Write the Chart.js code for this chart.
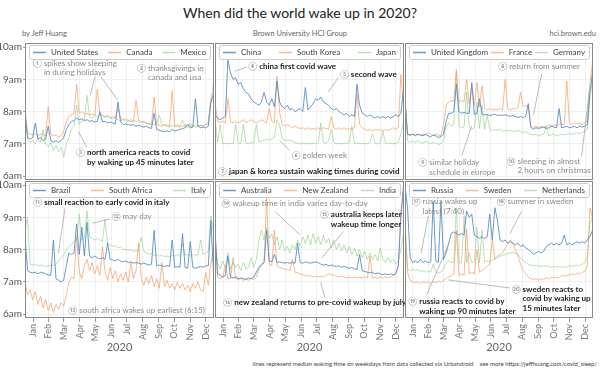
<!DOCTYPE html>
<html>
<head>
<meta charset="utf-8">
<script src="https://cdn.jsdelivr.net/npm/chart.js@4.4.1/dist/chart.umd.min.js"></script>
<style>
  html, body { margin: 0; padding: 0; background: #fff; }
  #wrap { position: relative; width: 600px; height: 375px; overflow: hidden; font-family: Lato, sans-serif; background: #fff; }
  #wrap canvas { position: absolute; left: 0; top: 0; }
  .txt { position: absolute; white-space: nowrap; color: #666; line-height: 1.2; }
</style>
</head>
<body>
<div id="wrap">
  <div class="txt" style="left:0;width:600px;top:5px;text-align:center;font-size:14px;color:#222;">When did the world wake up in 2020?</div>
  <div class="txt" style="left:22px;top:29px;font-size:7.5px;">by Jeff Huang</div>
  <div class="txt" style="left:0;width:600px;top:29px;text-align:center;font-size:7.5px;">Brown University HCI Group</div>
  <div class="txt" style="right:4px;top:29px;font-size:7.5px;">hci.brown.edu</div>
  <div class="txt" style="right:3px;top:360px;font-size:6px;color:#444;">lines represent median waking time on weekdays from data collected via Urbandroid &nbsp;&nbsp; see more https://jeffhuang.com/covid_sleep/</div>
</div>
<script>
// day of year (2020) for each sample
const sampleDays = [0, 5, 10, 15, 20, 25, 30, 35, 40, 45,
  50, 55, 60, 65, 70, 75, 80, 85, 90, 95,
  100, 105, 110, 115, 120, 125, 130, 135, 140, 145,
  150, 155, 160, 165, 170, 175, 180, 185, 190, 195,
  200, 205, 210, 215, 220, 225, 230, 235, 240, 245,
  250, 255, 260, 265, 270, 275, 280, 285, 290, 295,
  300, 305, 310, 315, 320, 325, 330, 335, 340, 345,
  350, 355, 360, 365];

const months = ['Jan', 'Feb', 'Mar', 'Apr', 'May', 'Jun', 'Jul', 'Aug', 'Sep', 'Oct', 'Nov', 'Dec'];
const monthMid = [15.5, 45.5, 75.5, 106, 136.5, 167, 197.5, 228.5, 259, 289.5, 320, 350.5];
const hourTicks = [6, 7, 8, 9, 10];
const hourLabels = ['6am', '7am', '8am', '9am', '10am'];

// median wake time (hours)
const usWake = [7.9, 7.2, 7.15, 7.2, 7.65, 7.15, 7.2, 7.1, 7.15, 7.55,
  7.1, 7.05, 7.1, 7.05, 7.1, 7.2, 7.45, 7.6, 7.7, 7.72,
  7.8, 7.75, 7.78, 7.72, 7.75, 7.7, 7.72, 7.68, 7.7, 8.0,
  7.68, 7.7, 7.65, 7.68, 7.65, 7.62, 8.3, 7.7, 7.6, 7.62,
  7.6, 7.58, 7.6, 7.55, 7.58, 7.55, 7.52, 7.55, 7.5, 7.48,
  7.95, 7.45, 7.42, 7.4, 7.38, 7.4, 7.38, 7.45, 7.4, 7.42,
  7.45, 7.48, 7.5, 7.6, 7.5, 7.52, 8.4, 7.55, 7.5, 7.52,
  7.5, 7.55, 8.3, 8.5];
const canadaWake = [8.0, 7.35, 7.3, 7.28, 7.32, 7.25, 7.3, 7.28, 7.25, 8.15,
  7.3, 7.25, 7.28, 7.22, 7.25, 7.4, 7.7, 7.85, 7.9, 7.95,
  8.85, 7.95, 8.0, 7.92, 7.95, 7.9, 7.92, 7.9, 8.7, 7.9,
  7.88, 7.85, 7.88, 7.82, 7.85, 7.8, 8.1, 7.8, 7.75, 7.78,
  7.72, 7.75, 7.7, 8.35, 7.72, 7.7, 7.68, 7.65, 7.62, 7.6,
  8.45, 7.6, 7.58, 7.55, 7.58, 7.55, 7.52, 8.65, 7.55, 7.55,
  7.52, 7.55, 7.58, 7.6, 7.55, 7.55, 7.6, 7.55, 7.58, 7.55,
  7.6, 7.62, 8.4, 8.6];
const mexicoWake = [8.2, 7.15, 7.05, 7.1, 7.0, 7.15, 7.05, 7.45, 7.0, 6.9,
  7.05, 6.8, 6.95, 6.75, 6.9, 6.6, 7.0, 7.2, 7.45, 7.55,
  8.2, 7.6, 7.7, 7.75, 8.5, 7.85, 7.8, 7.9, 7.85, 7.9,
  7.88, 7.82, 7.85, 7.8, 7.78, 7.82, 7.75, 7.72, 7.75, 7.7,
  7.72, 7.68, 7.7, 7.72, 7.68, 7.65, 7.7, 7.65, 7.62, 7.65,
  7.6, 7.62, 7.9, 7.6, 7.58, 7.6, 7.55, 7.58, 7.55, 7.6,
  7.55, 7.75, 7.55, 7.5, 7.65, 7.55, 7.52, 7.55, 7.58, 7.55,
  7.6, 7.7, 8.3, 8.9];

const chinaWake = [7.9, 7.8, 7.75, 7.8, 7.85, 9.6, 9.2, 9.0, 9.05, 8.85,
  8.9, 8.7, 8.6, 8.55, 8.4, 8.3, 8.25, 8.2, 8.3, 8.6,
  8.3, 8.2, 8.4, 8.15, 8.95, 8.3, 8.15, 8.1, 8.2, 8.05,
  8.1, 8.0, 8.05, 8.1, 8.0, 8.75, 8.05, 8.15, 8.25, 8.4,
  8.35, 8.45, 8.3, 8.25, 8.2, 8.1, 8.05, 8.1, 8.0, 7.95,
  7.9, 7.95, 7.85, 7.9, 7.85, 8.85, 8.2, 7.95, 7.9, 7.85,
  7.9, 7.85, 7.8, 7.85, 7.8, 7.85, 7.8, 7.85, 7.8, 7.85,
  7.9, 7.85, 7.95, 8.65];
const koreaWake = [8.3, 7.7, 7.65, 7.7, 7.65, 8.4, 7.7, 7.65, 7.7, 7.65,
  7.7, 7.75, 7.65, 7.7, 7.75, 7.7, 7.65, 7.7, 7.75, 7.7,
  7.65, 8.1, 7.7, 7.65, 9.1, 8.0, 7.6, 7.55, 7.6, 7.55,
  7.5, 7.55, 7.5, 7.48, 7.5, 7.45, 7.5, 7.45, 7.48, 7.45,
  7.5, 7.45, 7.5, 7.48, 7.45, 7.85, 7.5, 7.45, 7.5, 7.45,
  7.5, 7.45, 7.48, 7.45, 7.5, 8.55, 7.6, 7.5, 7.45, 7.42,
  7.45, 7.4, 7.45, 7.42, 7.45, 7.4, 7.45, 7.42, 7.45, 7.5,
  7.45, 7.5, 9.15, 8.2];
const japanWake = [7.8, 7.05, 7.6, 7.0, 7.02, 7.0, 7.02, 7.0, 7.6, 7.0,
  7.02, 7.6, 7.02, 7.0, 7.05, 7.02, 7.6, 7.05, 7.1, 7.1,
  7.15, 7.12, 7.15, 7.2, 7.75, 7.6, 7.15, 7.12, 7.1, 7.12,
  7.08, 7.05, 7.02, 7.0, 7.02, 7.0, 7.02, 7.0, 7.02, 7.0,
  7.05, 7.65, 7.05, 7.02, 7.1, 7.45, 7.05, 7.0, 7.02, 7.0,
  7.02, 7.0, 7.05, 7.55, 7.02, 7.0, 7.02, 7.0, 7.02, 7.0,
  7.05, 7.3, 7.02, 7.0, 7.02, 7.4, 7.02, 7.0, 7.02, 7.0,
  7.02, 7.05, 7.3, 7.7];

const ukWake = [8.3, 7.3, 7.28, 7.3, 7.25, 7.3, 7.28, 7.25, 7.3, 7.25,
  7.22, 7.28, 7.25, 7.2, 7.22, 7.3, 7.7, 7.95, 7.95, 8.0,
  8.85, 8.0, 7.95, 7.98, 7.95, 7.95, 8.9, 7.92, 7.95, 8.4,
  7.92, 7.9, 7.92, 7.88, 7.9, 7.92, 7.88, 7.9, 7.88, 7.9,
  7.88, 7.85, 7.88, 7.85, 7.82, 7.85, 7.82, 7.85, 8.25, 7.5,
  7.45, 7.5, 7.48, 7.5, 7.52, 7.48, 7.5, 7.55, 7.52, 7.5,
  8.1, 7.5, 7.52, 7.55, 7.5, 7.52, 7.55, 7.5, 7.55, 7.52,
  7.55, 7.6, 8.6, 9.2];
const franceWake = [8.4, 7.3, 7.25, 7.3, 7.28, 7.3, 7.25, 7.3, 7.28, 7.35,
  7.3, 7.25, 7.3, 7.28, 7.25, 7.6, 8.2, 8.3, 8.35, 8.3,
  9.3, 8.3, 8.35, 8.3, 9.0, 8.25, 8.8, 8.2, 8.9, 8.15,
  8.8, 8.1, 8.05, 8.1, 8.05, 8.08, 8.05, 8.1, 8.05, 9.0,
  8.1, 8.05, 8.1, 8.08, 8.12, 8.6, 8.15, 8.2, 8.15, 7.55,
  7.5, 7.55, 7.5, 7.55, 7.5, 7.55, 7.58, 7.55, 7.6, 7.55,
  7.6, 7.62, 7.6, 8.95, 7.65, 7.6, 7.65, 7.62, 7.65, 7.6,
  7.65, 7.7, 8.9, 9.5];
const germanyWake = [8.5, 7.1, 7.05, 7.08, 7.05, 7.1, 7.05, 7.02, 7.08, 7.05,
  7.0, 7.05, 7.02, 6.98, 7.0, 7.1, 7.55, 7.65, 7.55, 7.6,
  9.25, 7.55, 7.5, 7.52, 8.6, 7.5, 7.45, 7.5, 8.3, 7.48,
  8.2, 7.45, 7.9, 7.45, 7.42, 7.45, 7.42, 7.45, 7.4, 7.42,
  7.4, 7.42, 7.38, 7.4, 7.42, 7.38, 7.35, 7.38, 7.32, 7.3,
  7.28, 7.3, 7.25, 7.28, 7.3, 7.55, 7.25, 7.28, 7.3, 7.25,
  7.28, 7.3, 7.28, 7.3, 7.32, 7.3, 7.32, 7.35, 7.32, 7.35,
  7.4, 7.45, 8.4, 9.0];

const brazilWake = [8.4, 7.35, 7.3, 7.28, 7.3, 7.25, 7.3, 7.28, 7.25, 7.22,
  7.2, 8.3, 7.1, 7.05, 7.0, 7.05, 7.5, 7.9, 7.85, 7.9,
  8.8, 7.85, 8.7, 7.8, 8.85, 7.8, 7.75, 7.8, 7.75, 7.72,
  7.75, 7.7, 8.2, 7.7, 7.68, 7.65, 7.7, 7.65, 7.62, 7.65,
  7.6, 7.62, 7.58, 7.6, 7.58, 7.55, 7.58, 7.55, 7.52, 7.55,
  8.6, 7.5, 7.52, 7.5, 7.48, 7.5, 7.48, 8.3, 7.45, 7.48,
  7.45, 8.5, 7.45, 7.42, 8.25, 7.45, 7.42, 7.45, 7.48, 7.45,
  7.5, 7.5, 8.9, 7.3];
const southAfricaWake = [7.0, 6.6, 6.75, 6.45, 6.7, 6.3, 6.55, 6.2, 6.45, 6.1,
  6.35, 6.05, 6.3, 6.15, 6.35, 6.25, 6.6, 7.0, 7.15, 7.1,
  8.4, 7.3, 7.1, 7.5, 7.7, 7.35, 7.6, 7.25, 7.5, 7.2,
  8.1, 7.3, 7.05, 7.45, 7.1, 7.35, 7.0, 7.25, 7.05, 7.3,
  7.0, 7.6, 7.1, 7.35, 8.2, 7.1, 6.9, 7.15, 6.95, 7.2,
  6.85, 7.1, 6.8, 7.6, 6.85, 7.05, 6.8, 6.95, 6.75, 7.0,
  6.8, 6.95, 6.75, 6.9, 6.7, 6.95, 6.8, 7.0, 6.75, 6.7,
  7.3, 6.9, 7.6, 8.0];
const italyWake = [8.6, 9.0, 7.55, 7.52, 7.55, 7.5, 7.52, 7.5, 7.48, 7.5,
  7.52, 7.5, 7.55, 7.65, 7.75, 7.85, 8.0, 8.1, 8.15, 8.25,
  8.3, 9.1, 8.3, 8.35, 9.2, 8.4, 8.35, 8.3, 8.35, 8.3,
  8.25, 8.95, 8.2, 8.15, 8.1, 8.12, 8.05, 8.08, 8.0, 8.02,
  7.98, 8.0, 7.95, 7.98, 7.95, 8.4, 7.95, 7.9, 7.85, 7.88,
  7.82, 7.85, 7.8, 7.82, 7.78, 7.8, 7.78, 7.82, 7.8, 7.85,
  7.8, 8.2, 7.82, 7.85, 7.8, 7.85, 7.82, 7.85, 8.3, 7.85,
  7.9, 7.95, 9.05, 8.5];

const australiaWake = [8.6, 7.25, 7.2, 7.15, 7.2, 7.8, 7.15, 7.12, 7.15, 7.1,
  7.12, 7.1, 7.08, 7.12, 7.1, 7.15, 7.3, 7.45, 7.55, 7.6,
  8.6, 7.65, 7.62, 7.85, 7.6, 7.62, 7.6, 7.58, 7.6, 7.58,
  7.6, 7.58, 8.2, 7.6, 7.58, 7.62, 7.6, 7.58, 7.6, 7.62,
  7.6, 7.55, 7.52, 7.55, 7.5, 7.52, 7.5, 7.48, 7.5, 7.45,
  7.48, 7.45, 7.42, 7.45, 7.4, 7.38, 7.85, 7.35, 7.32, 7.3,
  7.28, 7.3, 7.25, 7.28, 7.25, 7.22, 7.25, 7.22, 7.25, 7.22,
  7.25, 7.5, 9.0, 10.0];
const newZealandWake = [8.5, 7.15, 7.1, 7.15, 7.5, 7.1, 7.12, 7.75, 7.1, 7.08,
  7.1, 7.05, 7.08, 7.05, 7.1, 7.08, 7.15, 7.4, 7.5, 7.6,
  9.6, 7.55, 7.5, 8.6, 7.5, 7.45, 7.42, 7.4, 7.38, 7.35,
  7.7, 7.3, 7.28, 7.25, 7.22, 7.2, 7.18, 7.2, 7.15, 7.18,
  7.15, 7.18, 7.15, 7.2, 7.25, 7.22, 7.2, 7.18, 7.15, 7.18,
  7.15, 7.12, 7.15, 7.12, 7.15, 7.12, 7.15, 7.12, 7.15, 7.12,
  7.8, 7.12, 7.15, 7.1, 7.15, 7.12, 7.15, 7.12, 7.15, 7.2,
  7.25, 7.5, 9.2, 9.8];
const indiaWake = [8.2, 7.6, 7.4, 7.65, 7.45, 7.9, 7.4, 7.6, 7.45, 7.55,
  7.35, 7.6, 7.4, 7.45, 7.75, 7.45, 7.7, 8.3, 8.6, 8.3,
  8.7, 8.35, 8.5, 8.15, 8.4, 8.0, 8.3, 7.95, 8.1, 7.9,
  8.15, 8.0, 8.3, 8.1, 8.4, 8.2, 8.45, 8.15, 8.5, 8.2,
  8.4, 8.15, 8.45, 8.2, 8.35, 8.05, 8.3, 8.0, 8.2, 7.95,
  8.15, 7.9, 8.1, 7.85, 8.05, 7.8, 8.0, 7.75, 7.95, 7.7,
  7.9, 7.7, 7.85, 7.65, 8.05, 7.7, 7.6, 7.75, 7.6, 7.7,
  7.55, 7.65, 8.0, 8.5];

const russiaWake = [10.0, 9.3, 7.75, 7.6, 7.65, 7.6, 7.7, 7.6, 7.65, 7.6,
  7.62, 9.5, 7.65, 7.6, 9.5, 7.7, 7.9, 8.2, 8.5, 8.55,
  8.5, 8.45, 8.5, 8.45, 9.2, 9.0, 9.1, 8.45, 8.4, 8.35,
  8.4, 8.35, 8.4, 9.1, 8.3, 9.3, 8.9, 8.3, 8.25, 8.3,
  8.2, 8.25, 8.2, 8.15, 8.2, 8.1, 8.15, 8.05, 8.0, 7.95,
  7.85, 7.9, 7.95, 7.9, 7.95, 8.1, 8.15, 8.2, 8.15, 8.2,
  8.15, 8.2, 8.45, 8.15, 8.2, 8.15, 8.2, 8.25, 8.2, 8.25,
  8.2, 8.3, 8.4, 8.6];
const swedenWake = [9.0, 7.3, 7.05, 7.0, 6.98, 7.0, 6.95, 7.0, 6.98, 7.0,
  6.95, 7.0, 6.98, 7.02, 7.0, 7.05, 7.1, 7.15, 7.2, 7.25,
  8.6, 7.2, 7.25, 7.2, 8.65, 7.25, 7.3, 7.25, 8.0, 7.3,
  7.35, 7.4, 7.5, 7.55, 8.3, 7.7, 7.8, 7.85, 7.9, 8.05,
  8.2, 8.3, 8.2, 8.0, 7.8, 7.55, 7.35, 7.25, 7.15, 7.1,
  7.08, 7.1, 7.05, 7.1, 7.08, 7.12, 7.1, 7.15, 7.12, 7.15,
  7.12, 7.2, 7.18, 7.2, 7.22, 7.25, 7.22, 7.28, 7.25, 7.3,
  7.32, 7.5, 9.3, 9.0];
const netherlandsWake = [8.6, 7.4, 7.35, 7.4, 7.35, 7.38, 7.32, 7.35, 7.3, 7.35,
  7.3, 7.55, 7.3, 7.28, 7.3, 7.4, 7.6, 7.65, 7.6, 7.62,
  9.3, 7.6, 7.58, 9.05, 7.6, 7.9, 7.6, 7.62, 8.7, 7.6,
  8.6, 7.62, 7.65, 7.62, 7.68, 7.72, 7.75, 7.8, 7.82, 7.85,
  7.88, 7.9, 7.92, 7.88, 7.85, 7.75, 7.65, 7.6, 7.55, 7.52,
  7.5, 7.52, 7.5, 7.48, 7.5, 7.48, 7.5, 7.45, 7.48, 7.45,
  7.48, 7.45, 7.48, 7.45, 7.5, 7.48, 7.5, 7.52, 7.5, 7.55,
  7.6, 7.8, 8.8, 9.0];

// annotations, placed at (day, hour)
const notesNA = [
  { day: 15.5, hour: 9.5, lines: ['① spikes show sleeping', 'in during holidays'], bold: false,
    leaders: [[135.6, 9.08, 125.9, 8.5], [147.2, 9.08, 180.1, 8.35]] },
  { day: 216.9, hour: 9.35, lines: ['② thanksgivings in', 'canada and usa'], bold: false, leaders: [] },
  { day: 98.8, hour: 6.73, lines: ['③ north america reacts to covid', 'by waking up 45 minutes later'], bold: true,
    leaders: [[119.5, 6.89, 103.2, 7.39]] }
];
const notesEA = [
  { day: 64.5, hour: 9.39, lines: ['④ china first covid wave'], bold: true, leaders: [[60.4, 9.38, 38, 9.25]] },
  { day: 242, hour: 9.16, lines: ['⑤ second wave'], bold: true, leaders: [[238.8, 9.06, 219.5, 8.61]] },
  { day: 148.5, hour: 6.63, lines: ['⑥ golden week'], bold: false, leaders: [[145.2, 6.79, 125.9, 7.1]] },
  { day: 5.8, hour: 6.14, lines: ['⑦ japan & korea sustain waking times during covid'], bold: true, leaders: [] }
];
const notesEU = [
  { day: 181.7, hour: 9.39, lines: ['⑧ return from summer'], bold: false, leaders: [[266.1, 9.18, 249.9, 7.88]] },
  { day: 25.9, hour: 6.42, lines: ['⑨ similar holiday', 'schedule in europe'], bold: false, leaders: [[110.4, 6.63, 129.9, 7.57]] },
  { day: 198, hour: 6.47, lines: ['⑩ sleeping in almost', '2 hours on christmas'], bold: false, leaders: [[344, 6.63, 359, 8.66]] }
];
const notesSA = [
  { day: 16.1, hour: 9.47, lines: ['⑪ small reaction to early covid in italy'], bold: true, leaders: [[77.5, 9.28, 64.5, 7.89]] },
  { day: 167.9, hour: 9.02, lines: ['⑫ may day'], bold: false, leaders: [[164.6, 8.95, 131.1, 8.82]] },
  { day: 83.9, hour: 6.13, lines: ['⑬ south africa wakes up earliest (6:15)'], bold: false, leaders: [] }
];
const notesOC = [
  { day: 13, hour: 9.42, lines: ['⑭ wakeup time in india varies day-to-day'], bold: false, leaders: [[116.2, 9.18, 164.6, 8.46]] },
  { day: 203.3, hour: 9.08, lines: ['⑮ australia keeps later', 'wakeup time longer'], bold: true, leaders: [[248.5, 8.56, 206.6, 7.73]] },
  { day: 16.1, hour: 6.37, lines: ['⑯ new zealand returns to pre-covid wakeup by july'], bold: true, leaders: [[213, 6.49, 204.7, 6.99]] }
];
const notesNE = [
  { day: 13, hour: 9.49, lines: ['⑰ russia wakes up', 'latest (7:40)'], bold: false, leaders: [[45.4, 9.05, 31.2, 7.89]] },
  { day: 178.5, hour: 9.49, lines: ['⑱ summer in sweden'], bold: false, leaders: [[227.2, 9.19, 204.4, 8.5]] },
  { day: 6.4, hour: 6.39, lines: ['⑲ russia reacts to covid by', 'waking up 90 minutes later'], bold: true, leaders: [[42.3, 6.6, 84.3, 8.15]] },
  { day: 207.7, hour: 6.78, lines: ['⑳ sweden reacts to', 'covid by waking up', '15 minutes later'], bold: true, leaders: [[204.4, 6.81, 84.3, 7.06]] }
];

const panels = [
  { names: ['United States', 'Canada', 'Mexico'], series: [usWake, canadaWake, mexicoWake], notes: notesNA },
  { names: ['China', 'South Korea', 'Japan'], series: [chinaWake, koreaWake, japanWake], notes: notesEA },
  { names: ['United Kingdom', 'France', 'Germany'], series: [ukWake, franceWake, germanyWake], notes: notesEU },
  { names: ['Brazil', 'South Africa', 'Italy'], series: [brazilWake, southAfricaWake, italyWake], notes: notesSA },
  { names: ['Australia', 'New Zealand', 'India'], series: [australiaWake, newZealandWake, indiaWake], notes: notesOC },
  { names: ['Russia', 'Sweden', 'Netherlands'], series: [russiaWake, swedenWake, netherlandsWake], notes: notesNE }
];

const lineColors = ['rgba(80,135,195,0.85)', 'rgba(245,155,100,0.7)', 'rgba(140,205,130,0.6)'];
const colLeft = [25, 215, 405], colRight = [214, 404, 593];
const rowTop = [43, 181], rowBottom = [180, 318];
const xAxisHeight = 40, yAxisWidth = 25;
const noteSize = 8;

Chart.defaults.font.family = 'Lato, sans-serif';

function panelPlugin(p) {
  return {
    id: 'panelDeco',
    afterDatasetsDraw(chart) {
      const { ctx, chartArea: a, scales: { x, y } } = chart;
      ctx.save();
      ctx.strokeStyle = '#8a8a8a';
      ctx.lineWidth = 1;
      ctx.strokeRect(a.left + 0.5, a.top + 0.5, a.width - 1, a.height - 1);

      // notes: circled number in plain grey, the rest grey or bold black
      p.notes.forEach(nt => {
        ctx.strokeStyle = '#aaa';
        ctx.lineWidth = 0.8;
        nt.leaders.forEach(l => {
          ctx.beginPath();
          ctx.moveTo(x.getPixelForValue(l[0]), y.getPixelForValue(l[1]));
          ctx.lineTo(x.getPixelForValue(l[2]), y.getPixelForValue(l[3]));
          ctx.stroke();
        });
        ctx.textBaseline = 'middle';
        ctx.textAlign = 'left';
        const px = x.getPixelForValue(nt.day), py = y.getPixelForValue(nt.hour);
        const mark = nt.lines[0].slice(0, 2);
        ctx.font = noteSize + 'px Lato';
        ctx.fillStyle = '#8a8a8a';
        ctx.fillText(mark, px, py);
        const indent = ctx.measureText(mark).width;
        ctx.font = (nt.bold ? 'bold ' : '') + noteSize + 'px Lato';
        ctx.fillStyle = nt.bold ? '#222' : '#8a8a8a';
        nt.lines.forEach((t, k) => ctx.fillText(k ? t : t.slice(2), px + indent, py + k * 9.5));
      });

      // legend box
      const bx = a.left + 4, by = a.top + 2, bw = a.width - 8, bh = 14;
      ctx.fillStyle = 'rgba(255,255,255,0.92)';
      ctx.strokeStyle = '#ccc';
      ctx.lineWidth = 1;
      ctx.beginPath();
      ctx.roundRect(bx + 0.5, by + 0.5, bw, bh, 2);
      ctx.fill();
      ctx.stroke();
      ctx.font = '8px Lato';
      ctx.textBaseline = 'middle';
      const widths = p.names.map(n => 18 + ctx.measureText(n).width);
      const gap = (bw - 8 - widths.reduce((s, v) => s + v, 0)) / 2;
      let cx = bx + 4;
      p.names.forEach((n, k) => {
        ctx.strokeStyle = lineColors[k];
        ctx.lineWidth = 1.5;
        ctx.beginPath();
        ctx.moveTo(cx, by + 7.5);
        ctx.lineTo(cx + 13, by + 7.5);
        ctx.stroke();
        ctx.fillStyle = '#444';
        ctx.fillText(n, cx + 18, by + 7.5);
        cx += widths[k] + gap;
      });
      ctx.restore();
    }
  };
}

const wrap = document.getElementById('wrap');
panels.forEach((p, n) => {
  const col = n % 3, row = Math.floor(n / 3);
  const isLeft = col === 0, isBottom = row === 1;
  const cv = document.createElement('canvas');
  cv.width = 600;
  cv.height = 375;
  wrap.appendChild(cv);
  new Chart(cv, {
    type: 'line',
    data: {
      datasets: p.series.map((vals, k) => ({
        label: p.names[k],
        data: vals.map((v, i) => ({ x: sampleDays[i], y: v })),
        borderColor: lineColors[k],
        borderWidth: 1,
        pointRadius: 0,
        tension: 0
      }))
    },
    options: {
      responsive: false,
      animation: false,
      layout: {
        padding: {
          left: colLeft[col] - (isLeft ? yAxisWidth : 0),
          right: 600 - colRight[col],
          top: rowTop[row],
          bottom: 375 - rowBottom[row] - (isBottom ? xAxisHeight : 0)
        }
      },
      plugins: { legend: { display: false }, tooltip: { enabled: false } },
      scales: {
        x: {
          type: 'linear', min: 0, max: 366,
          afterBuildTicks: s => { s.ticks = monthMid.map(v => ({ value: v })); },
          afterFit: s => { s.height = isBottom ? xAxisHeight : 0; },
          ticks: {
            display: isBottom, autoSkip: false, minRotation: 90, maxRotation: 90,
            padding: 2, color: '#777', font: { size: 9 },
            callback: (v, i) => months[i]
          },
          grid: { color: '#efefef', drawTicks: isBottom, tickLength: 4, tickColor: '#999' },
          border: { display: false },
          title: { display: isBottom, text: '2020', color: '#666', font: { size: 11 } }
        },
        y: {
          min: 5.88, max: 10.13,
          afterBuildTicks: s => { s.ticks = hourTicks.map(v => ({ value: v })); },
          afterFit: s => { s.width = isLeft ? yAxisWidth : 0; },
          ticks: {
            display: isLeft, padding: 1, color: '#555', font: { size: 10 },
            callback: v => hourLabels[hourTicks.indexOf(v)]
          },
          grid: { color: '#efefef', drawTicks: isLeft, tickLength: 2, tickColor: '#999' },
          border: { display: false }
        }
      }
    },
    plugins: [panelPlugin(p)]
  });
});
</script>
</body>
</html>
